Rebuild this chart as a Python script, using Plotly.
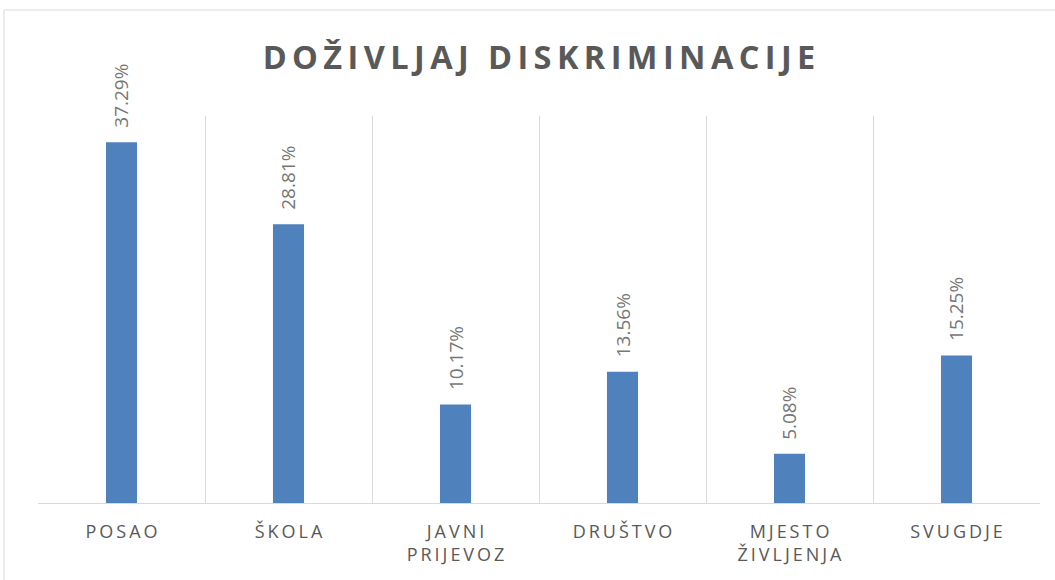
import plotly.graph_objects as go

categories = ["POSAO", "ŠKOLA", "JAVNI\nPRIJEVOZ", "DRUŠTVO", "MJESTO\nŽIVLJENJA", "SVUGDJE"]
values = [37.29, 28.81, 10.17, 13.56, 5.08, 15.25]
title_text = "DOŽIVLJAJ DISKRIMINACIJE"

TXT = "#595959"
LBL = "#767676"
FONT = "Open Sans"


def spaced(s, sep):
    return "<br>".join(sep.join(list(line)) for line in s.split("\n"))


tick_text = [spaced(c, "\u2009") for c in categories]

fig = go.Figure()
fig.add_trace(go.Bar(
    x=categories,
    y=values,
    marker=dict(color="#4F81BD", line=dict(width=0)),
    hoverinfo="skip",
))

for c, v in zip(categories, values):
    fig.add_annotation(
        x=c, y=v, text=f"{v:.2f}%", textangle=-90,
        showarrow=False, yanchor="bottom", yshift=12,
        font=dict(family=FONT, size=19, color=LBL),
    )

fig.update_layout(
    width=1055, height=580,
    margin=dict(l=38, r=15, t=116, b=77),
    paper_bgcolor="white", plot_bgcolor="white",
    bargap=0.814,
    showlegend=False,
    title=dict(
        text="<b>" + spaced(title_text, "\u2009") + "</b>",
        x=0.5, xref="paper", xanchor="center",
        y=1 - 58 / 580, yref="container", yanchor="middle",
        font=dict(family=FONT, size=32.5, color=TXT),
    ),
)

fig.update_xaxes(
    tickmode="array", tickvals=categories, ticktext=tick_text,
    tickson="boundaries", showgrid=True, gridcolor="#D9D9D9", gridwidth=1,
    showline=True, linecolor="#D9D9D9", linewidth=1,
    ticks="", ticklabelstandoff=12,
    tickfont=dict(family=FONT, size=18, color=TXT),
    fixedrange=True,
)
fig.update_yaxes(
    range=[0, 40], showgrid=False, showticklabels=False, zeroline=False,
    showline=False, fixedrange=True,
)

# outer chart border (extends past right and bottom edges, as in the source)
fig.add_shape(
    type="rect", xref="paper", yref="paper",
    x0=(4 - 38) / 1002, x1=(1070 - 38) / 1002,
    y0=(503 - 600) / 387, y1=(503 - 10) / 387,
    line=dict(color="#D9D9D9", width=1), fillcolor="rgba(0,0,0,0)", layer="below",
)

fig.write_html(
    "out.html",
    config={"displayModeBar": False},
    post_script="document.body.style.margin='0';",
)
